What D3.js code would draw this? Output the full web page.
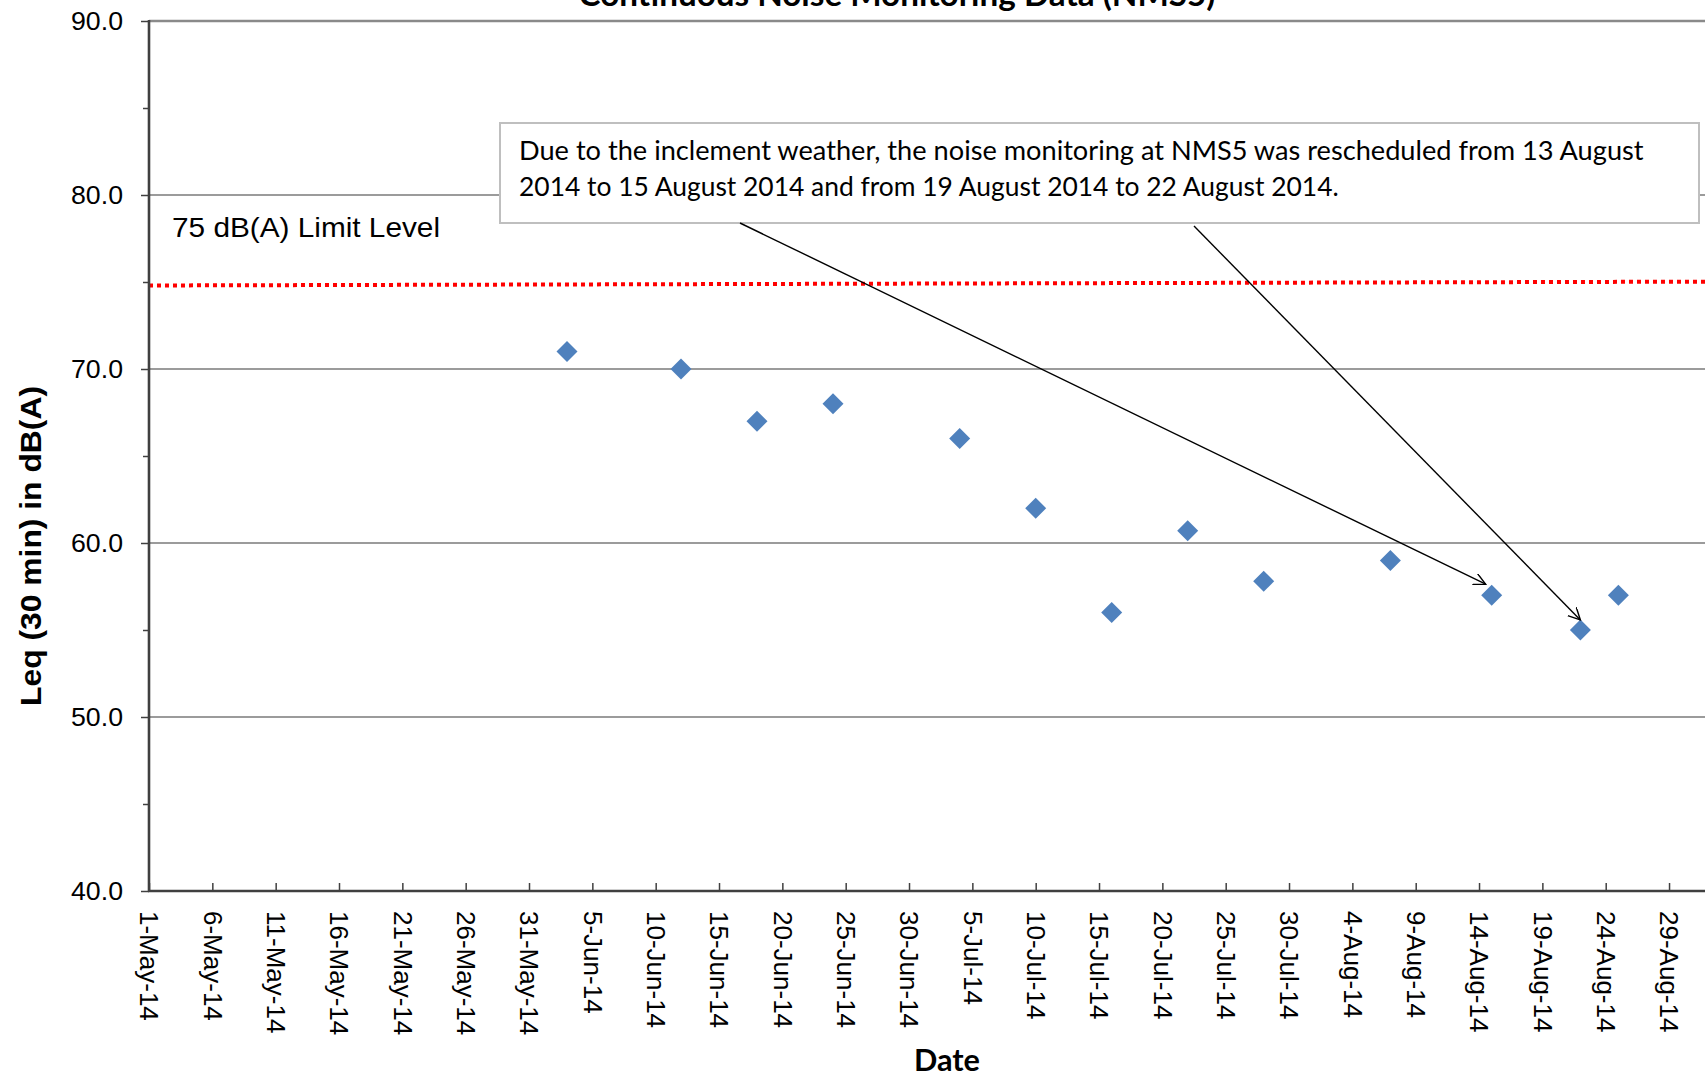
<!DOCTYPE html>
<html>
<head>
<meta charset="utf-8">
<script src="https://cdn.jsdelivr.net/npm/d3@7"></script>
<style>
  html, body { margin: 0; padding: 0; background: #fff; }
  svg { display: block; }
</style>
</head>
<body>
<svg id="chart" width="1705" height="1078"></svg>
<script>
// ---------------- data ----------------
const chartTitle = "Continuous Noise Monitoring Data (NMS5)";
const yAxisTitle = "Leq (30 min) in dB(A)";
const xAxisTitle = "Date";
const limitLabel = "75 dB(A) Limit Level";
const noteLines = [
  "Due to the inclement weather, the noise monitoring at NMS5 was rescheduled from 13 August",
  "2014 to 15 August 2014 and from 19 August 2014 to 22 August 2014."
];

const sampleDates = ["2014-06-03","2014-06-12","2014-06-18","2014-06-24","2014-07-04","2014-07-10",
                     "2014-07-16","2014-07-22","2014-07-28","2014-08-07","2014-08-15","2014-08-22","2014-08-25"];
const leqValues   = [71.0, 70.0, 67.0, 68.0, 66.0, 62.0, 56.0, 60.7, 57.8, 59.0, 57.0, 55.0, 57.0];

const limitDates  = ["2014-05-01", "2014-09-01"];
const limitValues = [74.8, 75.02];

const arrowTargetDates = ["2014-08-15", "2014-08-22"];

const yMajorTicks = [40, 50, 60, 70, 80, 90];
const yMinorTicks = [45, 55, 65, 75, 85];
const yGridValues = [50, 60, 70, 80];
const xTickLabels = ["1-May-14","6-May-14","11-May-14","16-May-14","21-May-14","26-May-14","31-May-14",
  "5-Jun-14","10-Jun-14","15-Jun-14","20-Jun-14","25-Jun-14","30-Jun-14","5-Jul-14","10-Jul-14",
  "15-Jul-14","20-Jul-14","25-Jul-14","30-Jul-14","4-Aug-14","9-Aug-14","14-Aug-14","19-Aug-14",
  "24-Aug-14","29-Aug-14"];

// ---------------- layout ----------------
const W = 1705, H = 1078;
const plotLeft = 149, plotTop = 21, plotBottom = 891;
const pxPerDay = 12.667;
const parseDate = d3.utcParse("%Y-%m-%d");
const parseTick = d3.utcParse("%d-%b-%y");
const fmtTick = d3.utcFormat("%-d-%b-%y");
const xStart = parseDate("2014-05-01");
const xEnd = parseDate("2014-09-03");
const nDays = d3.utcDay.count(xStart, xEnd);

const x = d3.scaleUtc().domain([xStart, xEnd]).range([plotLeft, plotLeft + nDays * pxPerDay]);
const y = d3.scaleLinear().domain([40, 90]).range([plotBottom, plotTop]);

const ARIAL = "'Liberation Sans', Arial, sans-serif";
const CALIBRI = "Lato, 'Open Sans', sans-serif";

const svg = d3.select("#chart");
svg.append("rect").attr("width", W).attr("height", H).attr("fill", "#fff");

function fitWidth(sel, target) {
  const w = sel.node().getComputedTextLength();
  const fs = parseFloat(sel.attr("font-size"));
  const nf = w > 0 ? fs * target / w : fs;
  sel.attr("font-size", nf.toFixed(2));
  return nf;
}

// gridlines
svg.append("g").selectAll("line").data(yGridValues).join("line")
  .attr("x1", plotLeft).attr("x2", W)
  .attr("y1", d => y(d)).attr("y2", d => y(d))
  .attr("stroke", "#7a7a7a").attr("stroke-width", 1.6);
// top border at 90
svg.append("line").attr("x1", plotLeft).attr("x2", W).attr("y1", y(90)).attr("y2", y(90))
  .attr("stroke", "#8a8a8a").attr("stroke-width", 2.6);

// title (cut at top, as in the reference)
const t = svg.append("text").text(chartTitle)
  .attr("x", 897).attr("y", 6).attr("text-anchor", "middle")
  .attr("font-family", CALIBRI).attr("font-weight", "bold").attr("font-size", 32).attr("fill", "#000");
fitWidth(t, 637);

// limit line
const limitPts = limitDates.map((d, i) => [x(parseDate(d)), y(limitValues[i])]);
svg.append("path").attr("d", d3.line()(limitPts))
  .attr("stroke", "#ff0000").attr("stroke-width", 4).attr("stroke-dasharray", "4 4").attr("fill", "none");

svg.append("text").text(limitLabel)
  .attr("x", 172).attr("y", 237)
  .attr("font-family", ARIAL).attr("font-size", 28).attr("fill", "#000")
  .attr("textLength", 268).attr("lengthAdjust", "spacingAndGlyphs");

// y axis
const yAxis = d3.axisLeft(y).tickValues(yMajorTicks).tickSize(8).tickSizeOuter(0).tickPadding(18)
  .tickFormat(d3.format(".1f"));
const gy = svg.append("g").attr("transform", `translate(${plotLeft},0)`).call(yAxis);
gy.select(".domain").remove();
gy.selectAll(".tick line").attr("stroke", "#404040").attr("stroke-width", 1.5);
gy.selectAll(".tick text")
  .attr("font-family", ARIAL).attr("font-size", 25).attr("fill", "#000")
  .attr("textLength", 52).attr("lengthAdjust", "spacingAndGlyphs");
const yMinor = d3.axisLeft(y).tickValues(yMinorTicks).tickSize(6).tickSizeOuter(0).tickFormat("");
const gym = svg.append("g").attr("transform", `translate(${plotLeft},0)`).call(yMinor);
gym.select(".domain").remove();
gym.selectAll(".tick line").attr("stroke", "#404040").attr("stroke-width", 1.5);

// x axis
const xAxis = d3.axisBottom(x)
  .tickValues(xTickLabels.map(s => parseTick(s)))
  .tickSize(-8).tickSizeOuter(0).tickFormat(fmtTick);
const gx = svg.append("g").attr("transform", `translate(0,${plotBottom})`).call(xAxis);
gx.select(".domain").remove();
gx.selectAll(".tick line").attr("stroke", "#404040").attr("stroke-width", 1.5);
gx.selectAll(".tick text")
  .attr("transform", "rotate(90)").attr("x", 20).attr("y", 0).attr("dy", "0.35em")
  .attr("text-anchor", "start")
  .attr("font-family", ARIAL).attr("font-size", 26).attr("fill", "#000");

// axis lines
svg.append("line").attr("x1", plotLeft).attr("x2", plotLeft).attr("y1", plotTop - 1).attr("y2", plotBottom + 1)
  .attr("stroke", "#404040").attr("stroke-width", 2.6);
svg.append("line").attr("x1", plotLeft - 1).attr("x2", W).attr("y1", plotBottom).attr("y2", plotBottom)
  .attr("stroke", "#404040").attr("stroke-width", 2.6);

// axis titles
svg.append("text").text(yAxisTitle)
  .attr("transform", "translate(41,546) rotate(-90)").attr("text-anchor", "middle")
  .attr("font-family", ARIAL).attr("font-weight", "bold").attr("font-size", 30).attr("fill", "#000")
  .attr("textLength", 320).attr("lengthAdjust", "spacingAndGlyphs");
const dt = svg.append("text").text(xAxisTitle)
  .attr("x", 947).attr("y", 1071).attr("text-anchor", "middle")
  .attr("font-family", CALIBRI).attr("font-weight", "bold").attr("font-size", 32).attr("fill", "#000");
fitWidth(dt, 66);

// data points (diamonds)
const pts = sampleDates.map((d, i) => ({ date: parseDate(d), value: leqValues[i] }));
const diamond = d3.symbol().type(d3.symbolSquare).size(220);
svg.append("g").selectAll("path").data(pts).join("path")
  .attr("d", diamond)
  .attr("transform", d => `translate(${x(d.date)},${y(d.value)}) rotate(45)`)
  .attr("fill", "#4f81bd");

// annotation box
const box = { x: 500, y: 123, w: 1199, h: 100 };
svg.append("rect").attr("x", box.x).attr("y", box.y).attr("width", box.w).attr("height", box.h)
  .attr("fill", "#fff").attr("stroke", "#bfbfbf").attr("stroke-width", 2);
const n1 = svg.append("text").text(noteLines[0]).attr("x", 519).attr("y", 160)
  .attr("font-family", CALIBRI).attr("font-size", 26).attr("fill", "#000");
fitWidth(n1, 1125);
const n2 = svg.append("text").text(noteLines[1]).attr("x", 519).attr("y", 196)
  .attr("font-family", CALIBRI).attr("font-size", 26).attr("fill", "#000");
fitWidth(n2, 820);

// arrows
svg.append("defs").append("marker")
  .attr("id", "arr").attr("markerUnits", "userSpaceOnUse")
  .attr("markerWidth", 16).attr("markerHeight", 16).attr("refX", 12).attr("refY", 6)
  .attr("orient", "auto")
  .append("path").attr("d", "M0,0 L12,6 L0,12").attr("fill", "none")
  .attr("stroke", "#000").attr("stroke-width", 1.4);

const arrowStarts = [[740, box.y + box.h], [1194, box.y + box.h + 3]];
const arrowOffsets = [[-6, -11], [0, -10]];
arrowTargetDates.forEach((d, i) => {
  const p = pts.find(q => +q.date === +parseDate(d));
  const tx = x(p.date) + arrowOffsets[i][0], ty = y(p.value) + arrowOffsets[i][1];
  svg.append("line")
    .attr("x1", arrowStarts[i][0]).attr("y1", arrowStarts[i][1])
    .attr("x2", tx).attr("y2", ty)
    .attr("stroke", "#000").attr("stroke-width", 1.4)
    .attr("marker-end", "url(#arr)");
});
</script>
</body>
</html>
